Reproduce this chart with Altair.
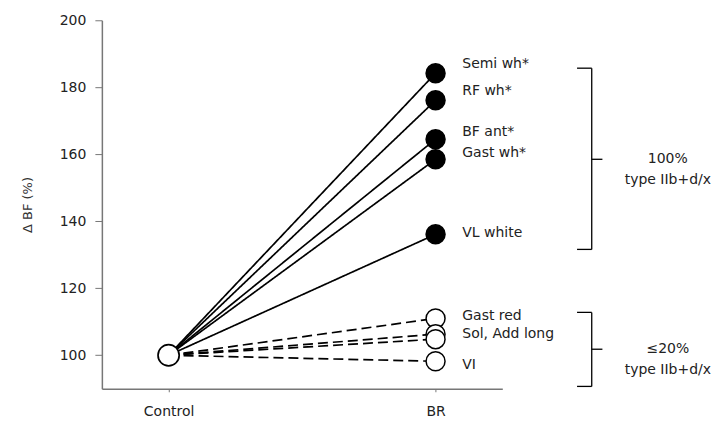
import altair as alt
import pandas as pd

# --- data ---
muscles = ["Semi wh*", "RF wh*", "BF ant*", "Gast wh*", "VL white",
           "Gast red", "Sol", "Add long", "VI"]
br_values = [184.2, 176.1, 164.5, 158.5, 136.1, 111.0, 106.3, 104.8, 98.2]
control_value = 100.0
line_type = ["solid"] * 5 + ["dashed"] * 4
fill_type = ["filled"] * 5 + ["open"] * 4

label_texts = ["Semi wh*", "RF wh*", "BF ant*", "Gast wh*", "VL white",
               "Gast red", "Sol, Add long", "VI"]
label_y = [186.9, 178.8, 166.6, 160.3, 136.4, 111.6, 106.3, 97.0]

x_categories = ["Control", "BR"]
x_pos = [0.5, 2.5]

# brackets: top, bottom, middle (in ΔBF units)
bracket_top = [185.7, 112.8]
bracket_bottom = [131.6, 90.7]
bracket_mid = [158.5, 101.8]
bracket_line1 = ["100%", "≤20%"]
bracket_line2 = ["type IIb+d/x", "type IIb+d/x"]

# --- tables ---
rows = []
for m, v, t in zip(muscles, br_values, line_type):
    rows.append({"muscle": m, "x": x_pos[0], "y": control_value, "type": t})
    rows.append({"muscle": m, "x": x_pos[1], "y": v, "type": t})
lines_df = pd.DataFrame(rows)

pts_df = pd.DataFrame({"x": [x_pos[1]] * len(muscles), "y": br_values,
                       "fill": fill_type, "muscle": muscles})
ctrl_df = pd.DataFrame({"x": [x_pos[0]], "y": [control_value]})
lab_df = pd.DataFrame({"x": [2.7] * len(label_texts), "y": label_y, "text": label_texts})

xl, xs, xt = 3.56, 3.67, 3.75
seg = []
for top, bot, mid in zip(bracket_top, bracket_bottom, bracket_mid):
    seg.append({"x": xs, "x2": xs, "y": top, "y2": bot})
    seg.append({"x": xl, "x2": xs, "y": top, "y2": top})
    seg.append({"x": xl, "x2": xs, "y": bot, "y2": bot})
    seg.append({"x": xs, "x2": xt, "y": mid, "y2": mid})
seg_df = pd.DataFrame(seg)

btxt = []
for mid, l1, l2 in zip(bracket_mid, bracket_line1, bracket_line2):
    btxt.append({"x": 4.24, "y": mid, "text": [l1, l2]})
btxt_df = pd.DataFrame(btxt)

FONT = "DejaVu Sans"
FS = 14

xscale = alt.Scale(domain=[0, 3], nice=False)
yscale = alt.Scale(domain=[90, 200], nice=False, zero=False)

label_expr = "datum.value == 0.5 ? 'Control' : (datum.value == 2.5 ? 'BR' : '')"

x_enc = alt.X("x:Q", scale=xscale,
              axis=alt.Axis(values=x_pos, labelExpr=label_expr, title=None, grid=False,
                            tickSize=3, labelPadding=13, labelFontSize=FS,
                            labelFont=FONT, labelColor="#222", domainColor="#777",
                            tickColor="#777", domainWidth=1.5))
y_enc = alt.Y("y:Q", scale=yscale,
              axis=alt.Axis(values=[100, 120, 140, 160, 180, 200], title="Δ BF (%)",
                            grid=False, tickSize=7, labelFontSize=FS, labelFont=FONT,
                            labelColor="#222", titleFont=FONT, titleFontSize=13,
                            titleFontWeight="normal", titleColor="#333",
                            titlePadding=25, domainColor="#777", tickColor="#777",
                            domainWidth=1.5, labelPadding=9))

lines = alt.Chart(lines_df).mark_line(color="black", strokeWidth=1.7).encode(
    x=x_enc, y=y_enc, detail="muscle:N",
    strokeDash=alt.StrokeDash("type:N", scale=alt.Scale(domain=["solid", "dashed"],
                                                         range=[[1, 0], [10, 5]]),
                              legend=None))

pts = alt.Chart(pts_df).mark_point(shape="circle", size=360, strokeWidth=1.5,
                                   stroke="black", opacity=1).encode(
    x="x:Q", y="y:Q",
    fill=alt.Fill("fill:N", scale=alt.Scale(domain=["filled", "open"],
                                            range=["black", "white"]), legend=None))

ctrl = alt.Chart(ctrl_df).mark_point(shape="circle", size=450, strokeWidth=1.7,
                                     stroke="black", fill="white", opacity=1).encode(
    x="x:Q", y="y:Q")

labels = alt.Chart(lab_df).mark_text(align="left", baseline="middle", fontSize=FS,
                                     font=FONT, color="#222").encode(
    x="x:Q", y="y:Q", text="text:N")

brackets = alt.Chart(seg_df).mark_rule(color="black", strokeWidth=1.3).encode(
    x="x:Q", x2="x2:Q", y="y:Q", y2="y2:Q")

btext = alt.Chart(btxt_df).mark_text(align="center", baseline="middle", fontSize=FS,
                                     font=FONT, color="#222", lineHeight=21).encode(
    x="x:Q", y="y:Q", text="text")

chart = alt.layer(lines, pts, ctrl, labels, brackets, btext).properties(
    width=401, height=369,
    padding={"left": 13, "top": 5, "right": 5, "bottom": 5},
    background="white",
).configure_view(stroke=None)

chart.save("out.html", embed_options={"renderer": "svg", "actions": False})
